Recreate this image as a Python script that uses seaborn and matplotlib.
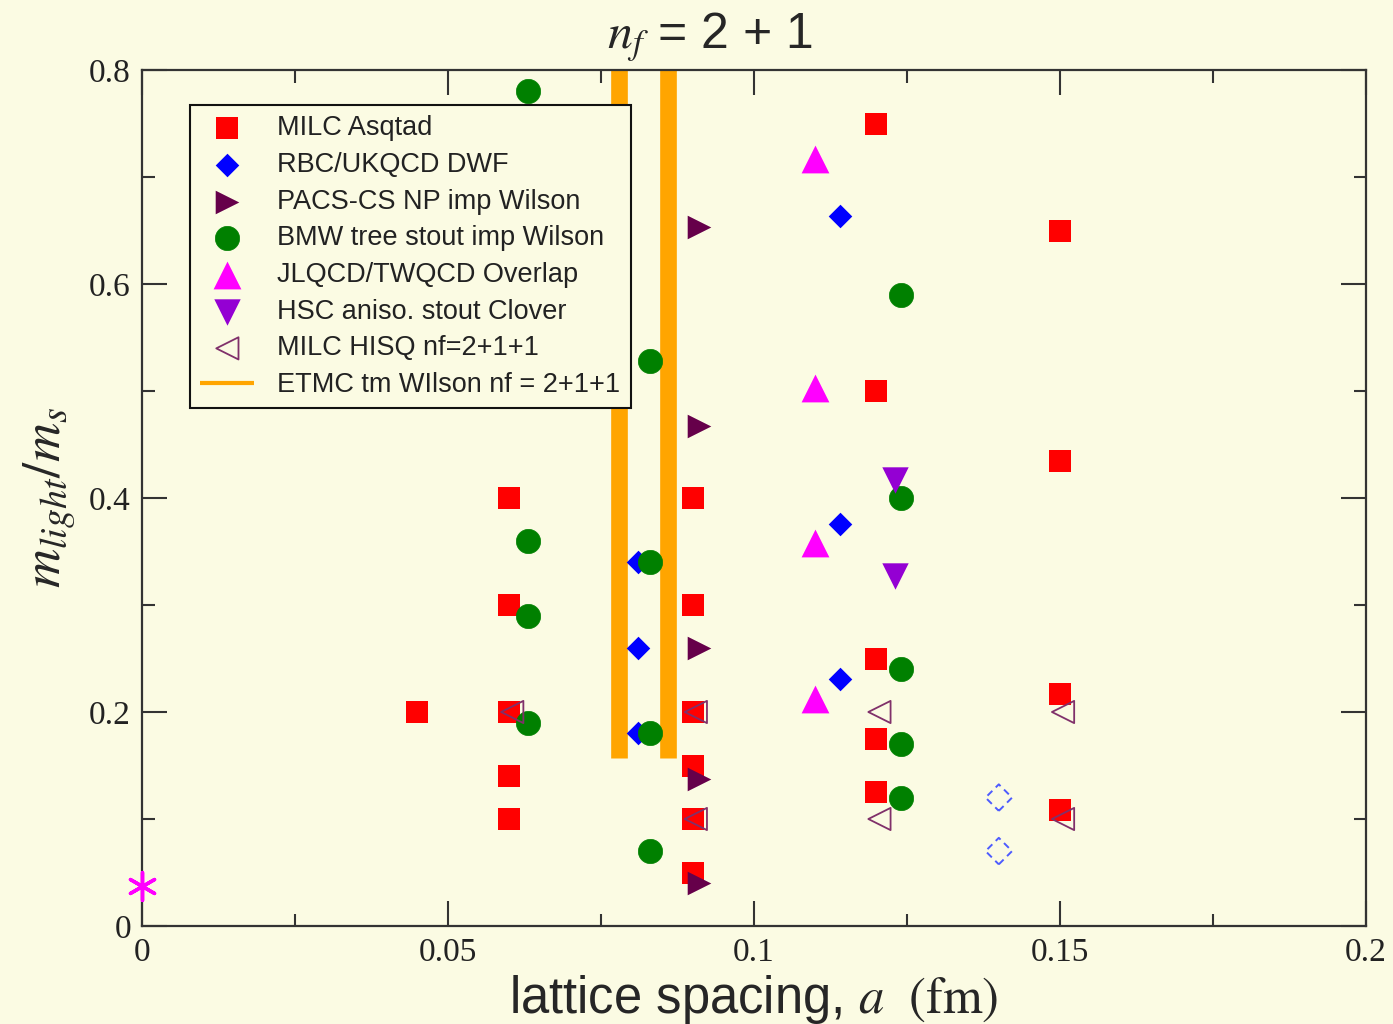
import matplotlib
matplotlib.use("Agg")
import matplotlib.pyplot as plt
import seaborn as sns

# ---- data: lattice spacing a (fm) and m_light/m_s per collaboration ----
milc_asqtad_a = [0.045, 0.06, 0.06, 0.06, 0.06, 0.06,
                 0.09, 0.09, 0.09, 0.09, 0.09, 0.09,
                 0.12, 0.12, 0.12, 0.12, 0.12,
                 0.15, 0.15, 0.15, 0.15]
milc_asqtad_r = [0.2, 0.4, 0.3, 0.2, 0.14, 0.1,
                 0.4, 0.3, 0.2, 0.15, 0.1, 0.05,
                 0.75, 0.5, 0.25, 0.175, 0.125,
                 0.65, 0.435, 0.217, 0.108]

rbc_a = [0.081, 0.081, 0.081, 0.114, 0.114, 0.114]
rbc_r = [0.34, 0.26, 0.18, 0.664, 0.376, 0.231]

rbc_planned_a = [0.14, 0.14]
rbc_planned_r = [0.12, 0.07]

pacs_a = [0.091, 0.091, 0.091, 0.091, 0.091]
pacs_r = [0.653, 0.467, 0.26, 0.137, 0.04]

bmw_a = [0.063, 0.063, 0.063, 0.063,
         0.083, 0.083, 0.083, 0.083,
         0.124, 0.124, 0.124, 0.124, 0.124]
bmw_r = [0.78, 0.36, 0.29, 0.19,
         0.528, 0.34, 0.18, 0.07,
         0.59, 0.4, 0.24, 0.17, 0.12]

jlqcd_a = [0.11, 0.11, 0.11, 0.11]
jlqcd_r = [0.717, 0.503, 0.358, 0.212]

hsc_a = [0.123, 0.123]
hsc_r = [0.417, 0.327]

hisq_a = [0.0605, 0.0905, 0.0905, 0.1205, 0.1205, 0.1505, 0.1505]
hisq_r = [0.2, 0.2, 0.1, 0.2, 0.1, 0.2, 0.1]

etmc_a = [0.078, 0.086]
etmc_low = 0.157
etmc_high = 0.8

phys_a = [0.0]
phys_r = [0.037]

xticks = [0, 0.05, 0.1, 0.15, 0.2]
xticklabels = ["0", "0.05", "0.1", "0.15", "0.2"]
yticks = [0, 0.2, 0.4, 0.6, 0.8]
yticklabels = ["0", "0.2", "0.4", "0.6", "0.8"]

# ---- style ----
BG = "#FBFBE3"
sns.set_style("ticks")
plt.rcParams["font.family"] = ["Liberation Sans", "DejaVu Sans"]
plt.rcParams["mathtext.fontset"] = "stix"

fig = plt.figure(figsize=(13.93, 10.24), dpi=100, facecolor=BG)
ax = fig.add_axes([142 / 1393, 1 - 926 / 1024, 1224 / 1393, 856 / 1024])
ax.set_facecolor(BG)

# ETMC lattice spacings drawn as thick vertical bands
ax.vlines(etmc_a, etmc_low, etmc_high, colors="#FFA500", linewidth=12,
          label="ETMC tm WIlson nf = 2+1+1", zorder=1, capstyle="butt")

sns.scatterplot(x=milc_asqtad_a, y=milc_asqtad_r, marker="s", s=16 ** 2,
                color="#FF0000", edgecolor="#FF0000", linewidth=0,
                label="MILC Asqtad", ax=ax, zorder=3)
sns.scatterplot(x=rbc_a, y=rbc_r, marker="D", s=12 ** 2,
                color="#0000FF", edgecolor="#0000FF", linewidth=0,
                label="RBC/UKQCD DWF", ax=ax, zorder=3)
sns.scatterplot(x=pacs_a, y=pacs_r, marker=">", s=17 ** 2,
                color="#66004A", edgecolor="#66004A", linewidth=0,
                label="PACS-CS NP imp Wilson", ax=ax, zorder=3)
sns.scatterplot(x=bmw_a, y=bmw_r, marker="o", s=17.5 ** 2,
                color="#008000", edgecolor="#008000", linewidth=0.5,
                label="BMW tree stout imp Wilson", ax=ax, zorder=3)
sns.scatterplot(x=jlqcd_a, y=jlqcd_r, marker="^", s=20 ** 2,
                color="#FF00FF", edgecolor="#FF00FF", linewidth=0,
                label="JLQCD/TWQCD Overlap", ax=ax, zorder=3)
sns.scatterplot(x=hsc_a, y=hsc_r, marker="v", s=19 ** 2,
                color="#9400D3", edgecolor="#9400D3", linewidth=0,
                label="HSC aniso. stout Clover", ax=ax, zorder=3)
sns.scatterplot(x=hisq_a, y=hisq_r, marker="<", s=16 ** 2,
                color="#80306A", edgecolor="#80306A", facecolors="none",
                linewidth=1.3, label="MILC HISQ nf=2+1+1", ax=ax, zorder=4)
# planned ensembles: open dashed diamonds, not in the legend
sns.scatterplot(x=rbc_planned_a, y=rbc_planned_r, marker="D", s=13.5 ** 2,
                color="#4D5BFF", edgecolor="#4D5BFF", facecolors="none",
                linewidth=1.4, linestyle=(0, (3.5, 2.5)), ax=ax, zorder=3,
                legend=False)
# physical point
sns.scatterplot(x=phys_a, y=phys_r, marker=(6, 2, 0), s=20 ** 2,
                color="#FF00FF", edgecolor="#FF00FF", linewidth=2.5,
                ax=ax, zorder=5, legend=False, clip_on=False)

# ---- axes ----
ax.set_xlim(0, 0.2)
ax.set_ylim(0, 0.8)
ax.set_xticks(xticks)
ax.set_xticklabels(xticklabels)
ax.set_yticks(yticks)
ax.set_yticklabels(yticklabels)
ax.set_xticks([0.025, 0.075, 0.125, 0.175], minor=True)
ax.set_yticks([0.1, 0.3, 0.5, 0.7], minor=True)
ax.tick_params(which="both", direction="in", top=True, right=True,
               color="#333333", width=1.5)
ax.tick_params(which="major", length=18, pad=8)
ax.tick_params(which="minor", length=9)
for lab in ax.get_xticklabels() + ax.get_yticklabels():
    lab.set_fontfamily("Liberation Serif")
    lab.set_fontsize(24)
    lab.set_color("#222222")
for sp in ax.spines.values():
    sp.set_visible(True)
    sp.set_color("#333333")
    sp.set_linewidth(1.6)

ax.set_xlabel(r"lattice spacing, $a\ \ \mathrm{(fm)}$", fontsize=36.5, labelpad=4)
ax.set_ylabel(r"$m_{light}/m_s$", fontsize=39, labelpad=8)
fig.text(710 / 1393, 1 - 48 / 1024, r"$n_f$ = 2 + 1", fontsize=36,
         ha="center", va="baseline")

# ---- legend ----
handles, labels = ax.get_legend_handles_labels()
order = ["MILC Asqtad", "RBC/UKQCD DWF", "PACS-CS NP imp Wilson",
         "BMW tree stout imp Wilson", "JLQCD/TWQCD Overlap",
         "HSC aniso. stout Clover", "MILC HISQ nf=2+1+1",
         "ETMC tm WIlson nf = 2+1+1"]
hmap = dict(zip(labels, handles))
leg = ax.legend([hmap[k] for k in order], order, loc="upper left",
                bbox_to_anchor=((190 - 142) / 1224, (926 - 105) / 856),
                borderaxespad=0, fontsize=19.5, frameon=True, fancybox=False,
                edgecolor="#111111", facecolor=BG, framealpha=1,
                handlelength=2.0, handletextpad=0.85, borderpad=0.38,
                labelspacing=0.395)
leg.get_frame().set_linewidth(1.5)
leg.legend_handles[-1].set_linewidth(3)
for t in leg.get_texts():
    t.set_color("#222222")

fig.savefig("out.png", dpi=100, facecolor=BG)
